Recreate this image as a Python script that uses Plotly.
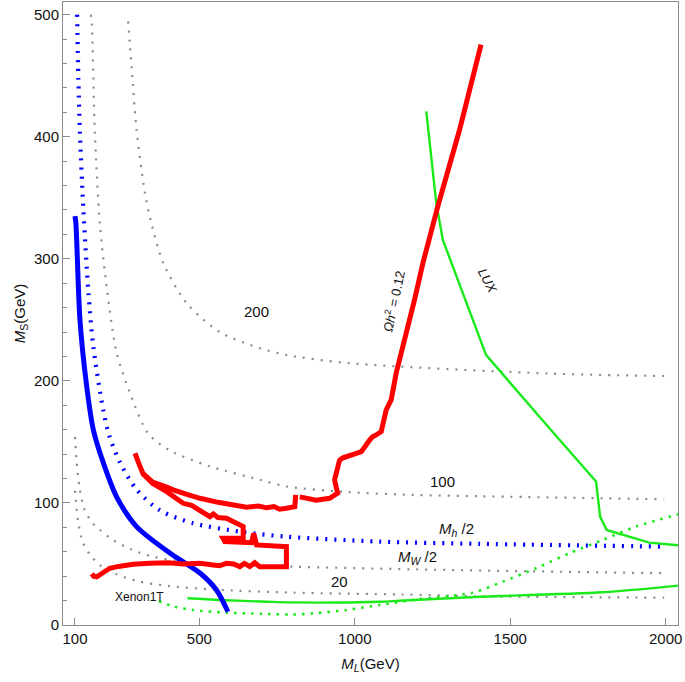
import plotly.graph_objects as go

# ---------------- data ----------------
# blue dotted: M_h/2 contour
blue_dot_x = [107, 111, 116, 127, 143, 159, 191, 209, 245, 298, 373, 480, 630, 780, 1080, 1400, 2000]
blue_dot_y = [500, 447, 403, 340, 273, 228, 176, 156, 133, 111, 94, 83.4, 76.5, 72.4, 68.3, 66.5, 64.2]

# blue solid
blue_x = [100, 103, 116, 138, 159, 191, 234, 298, 405, 502, 555, 592]
blue_y = [335, 329, 250, 195, 160, 133, 105, 80.6, 59, 42.6, 28.7, 10.9]

# gray dotted contours
g100_x = [151, 154, 164, 180, 202, 234, 277, 335, 405, 534, 694, 780, 973, 1186, 1400, 1995]
g100_y = [500, 493, 403, 329, 277, 223, 190, 157, 143, 130, 119, 113.5, 109, 106.6, 105.5, 103]

g200_x = [271, 282, 298, 325, 343, 384, 459, 566, 694, 785, 983, 1626, 1995]
g200_y = [494.5, 457.6, 405.7, 354, 332, 296.5, 263.7, 240, 226.8, 221, 214.5, 206, 204]

gmw_x = [100, 105, 115, 130, 155, 180, 220, 280, 350, 450, 600, 800, 1200, 1995]
gmw_y = [154, 135, 112, 95, 84, 78, 70, 62, 56, 52, 49.5, 47.8, 45.5, 42.4]

g20_x = [100, 110, 125, 150, 180, 230, 300, 400, 550, 800, 1150, 1400, 1995]
g20_y = [110, 85, 68, 57, 49, 42, 36, 32, 29, 26.5, 25, 23.5, 22.4]

# red: relic density contour, three pieces
red_a_x = [293, 300, 309, 319, 350, 395, 416, 460, 502, 560, 610, 652, 690, 716, 740, 758, 780, 795, 807, 810]
red_a_y = [140.7, 135, 130, 124, 117, 113, 110.7, 107, 103.8, 100.5, 98.4, 96.5, 97.5, 96, 97, 94.8, 95.6, 96, 97, 106.6]

red_b_x = [319, 350, 395, 448, 475, 502, 534, 545, 560, 587, 641, 641, 576, 582, 668, 675, 684, 780, 780,
           694, 678, 662, 645, 630, 610, 587, 565, 544, 502, 448, 400, 341, 287, 240, 212, 185, 170, 160, 154]
red_b_y = [124, 116, 109.3, 99.7, 98, 94.3, 88.8, 91, 88, 87.4, 80.6, 71, 71, 68.3, 67.5, 75.1, 65.6, 64.2, 47.8,
           47.8, 51, 48, 50.5, 47.8, 50, 50.5, 48.5, 49.2, 50.5, 50, 51, 50.5, 49.8, 48, 46.5, 42, 39.5, 40, 42]

red_c_x = [823, 876, 919, 945, 941, 935, 951, 962, 1005, 1021, 1048, 1058, 1069, 1085, 1101, 1117, 1133, 1155,
           1192, 1219, 1267, 1337, 1406]
red_c_y = [105, 102.3, 103.8, 108, 112, 119, 135, 137, 140.7, 142, 151.6, 154.3, 155.7, 158.5, 176.2, 184.4,
           206.3, 228, 266.4, 296.5, 342.9, 405.7, 475.4]

# green: LUX, Xenon1T and Xenon1T projection
lux_x = [1230, 1262, 1283, 1422, 1626, 1776, 1789, 1810, 1947, 2060]
lux_y = [420.8, 345.7, 315.6, 221.3, 161.2, 117.5, 88.8, 77.9, 67.5, 64.8]

xe_x = [462, 566, 716, 791, 1080, 1144, 1369, 1401, 1797, 2060]
xe_y = [21.9, 20.5, 19.1, 18.5, 19.1, 19.9, 22.7, 23.2, 26.8, 32.8]

xep_x = [370, 420, 480, 587, 700, 800, 866, 973, 1080, 1187, 1294, 1380, 1476, 1583, 1690, 1797, 1904, 2060]
xep_y = [19.5, 15, 12.3, 10.1, 9.2, 8.6, 9.5, 12.3, 16.4, 20.5, 23.5, 26.5, 35.5, 46.5, 58.8, 69.7, 80.6, 92]

x_ticks = [100, 500, 1000, 1500, 2000]
y_ticks = [0, 100, 200, 300, 400, 500]

# ---------------- figure ----------------
GRAY = "#8a8a8a"
GREEN = "#1aea1a"
fig = go.Figure()


def line(x, y, color, width, dash="solid", shape="linear"):
    fig.add_trace(go.Scatter(x=x, y=y, mode="lines",
                             line=dict(color=color, width=width, dash=dash, shape=shape, smoothing=0.8),
                             hoverinfo="skip", showlegend=False))


for gx, gy in [(g200_x, g200_y), (g100_x, g100_y), (gmw_x, gmw_y), (g20_x, g20_y)]:
    line(gx, gy, GRAY, 2.2, "2px,7px", "spline")

line(xep_x, xep_y, GREEN, 2.6, "2.5px,6px", "spline")
line(xe_x, xe_y, GREEN, 2.4, shape="spline")
line(lux_x, lux_y, GREEN, 2.4)
line(blue_dot_x, blue_dot_y, "#0000ff", 4.2, "2px,7px", "spline")
line(blue_x, blue_y, "#0000ff", 5, shape="spline")
line(red_a_x, red_a_y, "#ff0000", 5)
line(red_b_x, red_b_y, "#ff0000", 5)
line(red_c_x, red_c_y, "#ff0000", 5)

FONT = "Liberation Sans, Arial, sans-serif"
ann = [
    dict(x=683, y=257, text="200"),
    dict(x=1283, y=117.5, text="100"),
    dict(x=951, y=35.5, text="20"),
    dict(x=1326, y=78.4, text="<i>M<sub>h</sub></i> /2"),
    dict(x=1203, y=55.5, text="<i>M<sub>W</sub></i> /2"),
    dict(x=309, y=23.2, text="Xenon1T", size=12),
    dict(x=1428, y=281.4, text="<i>LUX</i>", size=13, textangle=62),
    dict(x=1122, y=265, text="<i>Ωh</i><sup>2</sup> = 0.12", size=13, textangle=-78),
]
for a in ann:
    fig.add_annotation(x=a["x"], y=a["y"], text=a["text"], showarrow=False,
                       textangle=a.get("textangle", 0),
                       font=dict(family=FONT, size=a.get("size", 15), color="#111"))

axis_common = dict(showline=True, mirror=True, linecolor="#8a8a8a", linewidth=1, ticks="inside",
                   tickcolor="#8a8a8a", ticklen=7, showgrid=False, zeroline=False, automargin=False,
                   tickfont=dict(family=FONT, size=15, color="#111"))
fig.update_xaxes(range=[61.5, 2039.5], tickvals=x_ticks, **axis_common,
                 title=dict(text="<i>M<sub>L</sub></i>(GeV)", font=dict(family=FONT, size=15, color="#111"),
                            standoff=12))
fig.update_yaxes(range=[0, 510.4], tickvals=y_ticks, **axis_common,
                 minor=dict(dtick=20, ticks="inside", ticklen=4, tickcolor="#8a8a8a", showgrid=False),
                 title=dict(text="<i>M</i><sub>S</sub>(GeV)", font=dict(family=FONT, size=15, color="#111"),
                            standoff=4))
fig.update_layout(width=685, height=682, margin=dict(l=63, r=7, t=2, b=57),
                  paper_bgcolor="white", plot_bgcolor="white")
fig.write_html("out.html", config={"displayModeBar": False},
               post_script="document.body.style.margin='0';document.body.style.overflow='hidden';")
